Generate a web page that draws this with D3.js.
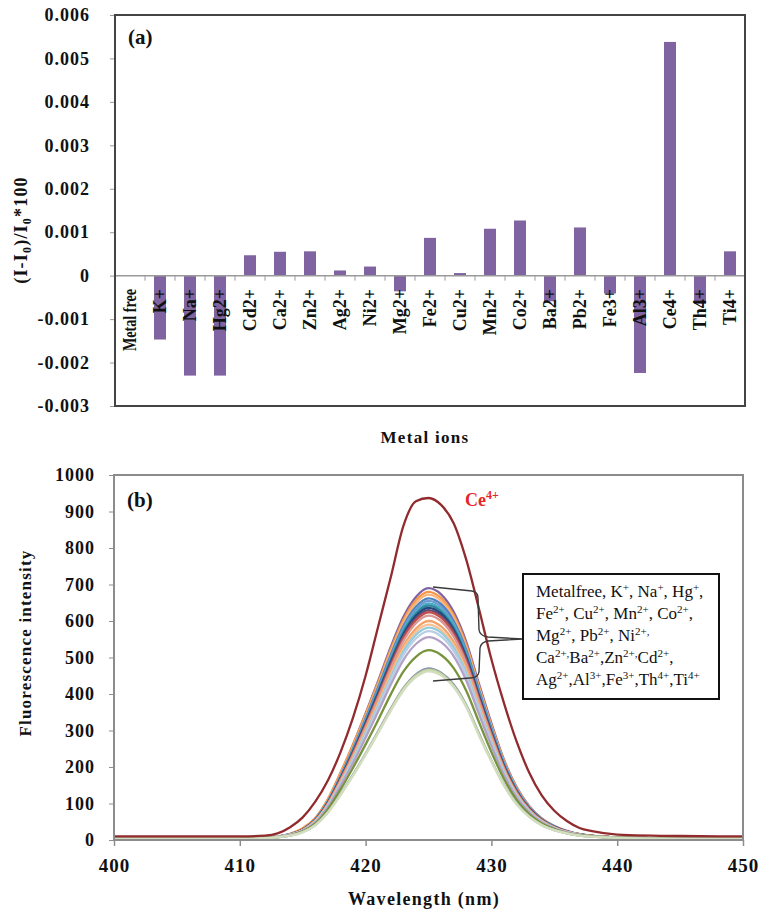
<!DOCTYPE html>
<html>
<head>
<meta charset="utf-8">
<script src="https://cdn.jsdelivr.net/npm/d3@7"></script>
<style>
  html, body { margin: 0; padding: 0; background: #fff; }
  svg { display: block; }
  text { font-family: "Liberation Serif", "Times New Roman", serif; }
</style>
</head>
<body>
<svg id="fig" width="761" height="914"></svg>
<script>
// ---------- Panel (a): relative intensity change for each metal ion ----------
const ions = ["Metal free", "K+", "Na+", "Hg2+", "Cd2+", "Ca2+", "Zn2+", "Ag2+", "Ni2+", "Mg2+",
  "Fe2+", "Cu2+", "Mn2+", "Co2+", "Ba2+", "Pb2+", "Fe3+", "Al3+", "Ce4+", "Th4+", "Ti4+"];
const relChange = [0, -0.00147, -0.0023, -0.0023, 0.00047, 0.00055, 0.00056, 0.00012, 0.00021, -0.00036,
  0.00087, 0.00006, 0.00108, 0.00127, -0.00059, 0.00111, -0.00041, -0.00224, 0.00538, -0.00065, 0.00056];
const relTicks = [-0.003, -0.002, -0.001, 0, 0.001, 0.002, 0.003, 0.004, 0.005, 0.006];

// ---------- Panel (b): emission spectra ----------
const wavelengths = [400, 405, 410, 412, 413, 414, 415, 416, 417, 418, 419, 420, 421, 422, 423, 424, 425,
  426, 427, 428, 429, 430, 431, 432, 433, 434, 435, 436, 437, 438, 440, 445, 450];
const ceSpectrum = [10, 10, 10, 12, 18, 35, 62, 105, 163, 240, 335, 450, 585, 720, 860, 928, 937,
  918, 868, 768, 635, 495, 375, 270, 185, 122, 80, 52, 33, 24, 15, 11, 10];
// one spectrum per ion of the legend group
const ionSpectra = [
  [4, 4, 4, 6, 9, 16, 30, 59, 110, 182, 261, 347, 436, 529, 611, 666, 690, 673, 625, 543, 429, 320, 220, 145, 93, 59, 38, 25, 16, 12, 7, 4, 4],
  [4, 4, 4, 6, 9, 17, 32, 60, 112, 184, 262, 345, 432, 522, 603, 657, 680, 663, 616, 535, 423, 315, 217, 143, 92, 58, 38, 24, 16, 11, 7, 4, 4],
  [4, 4, 4, 6, 9, 16, 29, 57, 108, 178, 255, 338, 425, 515, 595, 649, 672, 655, 609, 528, 418, 311, 214, 141, 91, 57, 37, 24, 16, 11, 7, 4, 4],
  [4, 4, 4, 6, 9, 16, 29, 57, 106, 175, 251, 333, 419, 507, 586, 639, 662, 646, 600, 521, 412, 307, 211, 139, 90, 57, 37, 24, 16, 11, 7, 4, 4],
  [4, 4, 4, 6, 9, 16, 29, 56, 105, 173, 248, 330, 414, 502, 580, 632, 655, 639, 593, 515, 408, 303, 209, 137, 89, 56, 37, 24, 16, 11, 7, 4, 4],
  [4, 4, 4, 6, 9, 16, 28, 56, 104, 171, 246, 326, 410, 497, 574, 625, 648, 632, 587, 510, 403, 300, 207, 136, 88, 56, 36, 23, 16, 11, 7, 4, 4],
  [4, 4, 4, 6, 9, 15, 28, 55, 103, 170, 243, 323, 406, 492, 569, 620, 642, 626, 581, 505, 400, 297, 205, 135, 87, 55, 36, 23, 15, 11, 7, 4, 4],
  [4, 4, 4, 6, 9, 15, 28, 55, 102, 168, 241, 320, 402, 487, 563, 614, 636, 620, 576, 500, 396, 295, 203, 134, 86, 55, 36, 23, 15, 11, 7, 4, 4],
  [4, 4, 4, 6, 9, 15, 28, 54, 101, 167, 239, 317, 398, 483, 558, 608, 630, 614, 571, 495, 392, 292, 201, 132, 85, 54, 35, 23, 15, 11, 7, 4, 4],
  [4, 4, 4, 6, 9, 15, 28, 54, 100, 165, 237, 314, 395, 478, 553, 602, 624, 609, 565, 491, 388, 289, 199, 131, 85, 54, 35, 23, 15, 11, 7, 4, 4],
  [4, 4, 4, 6, 9, 15, 27, 53, 99, 163, 233, 310, 389, 471, 545, 594, 615, 600, 557, 484, 383, 285, 196, 129, 83, 53, 35, 22, 15, 11, 7, 4, 4],
  [4, 4, 4, 6, 9, 15, 27, 52, 96, 159, 228, 302, 379, 460, 531, 579, 600, 585, 543, 472, 374, 278, 192, 126, 81, 52, 34, 22, 15, 11, 7, 4, 4],
  [4, 4, 4, 6, 9, 15, 26, 51, 95, 156, 224, 297, 373, 452, 523, 570, 590, 575, 534, 464, 367, 274, 189, 124, 80, 51, 33, 22, 15, 10, 7, 4, 4],
  [4, 4, 4, 6, 9, 14, 26, 50, 94, 154, 221, 293, 368, 446, 516, 562, 582, 568, 527, 458, 362, 270, 186, 122, 79, 50, 33, 21, 14, 10, 7, 4, 4],
  [4, 4, 4, 6, 9, 14, 26, 49, 92, 152, 217, 288, 362, 439, 507, 552, 572, 558, 518, 450, 356, 265, 183, 120, 78, 49, 32, 21, 14, 10, 7, 4, 4],
  [4, 4, 4, 6, 8, 14, 25, 48, 90, 148, 211, 280, 352, 426, 493, 537, 556, 542, 504, 437, 346, 258, 178, 117, 76, 48, 32, 21, 14, 10, 7, 4, 4],
  [4, 4, 4, 6, 8, 13, 24, 45, 84, 138, 198, 262, 329, 399, 461, 502, 520, 507, 471, 409, 324, 241, 167, 110, 71, 45, 30, 19, 13, 10, 7, 4, 4],
  [3, 3, 3, 5, 8, 12, 22, 41, 76, 125, 179, 237, 298, 360, 416, 454, 470, 458, 426, 370, 293, 218, 151, 100, 65, 41, 27, 18, 12, 9, 6, 3, 3],
  [3, 3, 3, 5, 8, 12, 22, 41, 76, 124, 177, 235, 295, 357, 413, 450, 466, 455, 422, 367, 290, 217, 150, 99, 64, 41, 27, 18, 12, 9, 6, 3, 3],
  [3, 3, 3, 5, 8, 12, 21, 41, 75, 123, 176, 233, 293, 354, 409, 446, 462, 451, 419, 364, 287, 215, 149, 98, 64, 41, 27, 18, 12, 9, 6, 3, 3]
];
const spectraColors = ["#8064A2", "#F79646", "#FAB57A", "#4F81BD", "#6C9BD2", "#4BACC6", "#31859C",
  "#1F497D", "#604A7B", "#C0504D", "#D99694", "#F3A36A", "#FAC090", "#93CDDD", "#B9CDE5", "#B3A2C7",
  "#77933C", "#8C96AC", "#C3D69B", "#D3DEC0"];
const ceColor = "#922B2E";
const wlTicks = [400, 410, 420, 430, 440, 450];
const intensityTicks = [0, 100, 200, 300, 400, 500, 600, 700, 800, 900, 1000];

// legend text: [text, isSuperscript]
const legendLines = [
  [["Metalfree, K", 0], ["+", 1], [", Na", 0], ["+", 1], [", Hg", 0], ["+", 1], [",", 0]],
  [["Fe", 0], ["2+", 1], [", Cu", 0], ["2+", 1], [", Mn", 0], ["2+", 1], [", Co", 0], ["2+", 1], [",", 0]],
  [["Mg", 0], ["2+", 1], [", Pb", 0], ["2+", 1], [", Ni", 0], ["2+,", 1]],
  [["Ca", 0], ["2+,", 1], ["Ba", 0], ["2+", 1], [",Zn", 0], ["2+,", 1], ["Cd", 0], ["2+", 1], [",", 0]],
  [["Ag", 0], ["2+", 1], [",Al", 0], ["3+", 1], [",Fe", 0], ["3+", 1], [",Th", 0], ["4+", 1], [",Ti", 0], ["4+", 1]]
];

// append runs of normal / raised / lowered text, tracking the baseline offset
function appendRuns(textSel, runs, size, smallSize, shift) {
  let offset = 0;
  runs.forEach(([s, flag]) => {
    const target = flag ? shift : 0;
    textSel.append("tspan")
      .attr("font-size", flag ? smallSize : size)
      .attr("dy", target - offset)
      .text(s);
    offset = target;
  });
}

const svg = d3.select("#fig");

// ================= Panel (a) =================
const A = { left: 115, right: 745, top: 15, bottom: 406 };
const xA = d3.scaleBand().domain(ions).range([A.left, A.right]).paddingInner(0.6).paddingOuter(0.3);
const yA = d3.scaleLinear().domain([-0.003, 0.006]).range([A.bottom, A.top]);
const fmtA = d => d === 0 ? "0" : d3.format(".3f")(d).replace("\u2212", "-");

const gA = svg.append("g");

// left axis with ticks and labels
const axA = gA.append("g").attr("transform", `translate(${A.left},0)`)
  .call(d3.axisLeft(yA).tickValues(relTicks).tickSize(5).tickPadding(20).tickFormat(fmtA));
axA.select(".domain").remove();
axA.selectAll(".tick line").attr("stroke", "#9a9a9a");
axA.selectAll(".tick text").attr("font-size", 18).attr("font-weight", "bold")
  .attr("letter-spacing", 1).attr("fill", "#111")
  .style("font-family", '"Liberation Serif", serif');

// bars
gA.append("g").selectAll("rect").data(ions).join("rect")
  .attr("x", d => xA(d))
  .attr("width", xA.bandwidth())
  .attr("y", (d, i) => Math.min(yA(relChange[i]), yA(0)))
  .attr("height", (d, i) => Math.abs(yA(relChange[i]) - yA(0)))
  .attr("fill", "#8064A2");

// zero line with category separators
const axX = gA.append("g").attr("transform", `translate(0,${yA(0)})`);
axX.append("line").attr("x1", A.left).attr("x2", A.right).attr("stroke", "#9a9a9a").attr("stroke-width", 1.5);
const stepA = xA.step();
axX.selectAll("line.sep").data(d3.range(1, ions.length)).join("line").attr("class", "sep")
  .attr("x1", i => A.left + i * stepA).attr("x2", i => A.left + i * stepA)
  .attr("y1", 0).attr("y2", 5).attr("stroke", "#9a9a9a");

// rotated category labels
gA.append("g").selectAll("text").data(ions).join("text")
  .attr("transform", d => `translate(${xA(d) + xA.bandwidth() / 2 + 6},289) rotate(-90)`)
  .attr("text-anchor", "end")
  .attr("font-size", 18).attr("font-weight", "bold").attr("fill", "#111")
  .attr("textLength", d => d === "Metal free" ? 62 : null)
  .attr("lengthAdjust", "spacingAndGlyphs")
  .text(d => d);

// frame
gA.append("rect").attr("x", A.left).attr("y", A.top)
  .attr("width", A.right - A.left).attr("height", A.bottom - A.top)
  .attr("fill", "none").attr("stroke", "#444").attr("stroke-width", 2);

gA.append("text").attr("x", 128).attr("y", 44).attr("font-size", 21).attr("font-weight", "bold")
  .attr("fill", "#111").text("(a)");

// y title with subscripts
const yTitleA = gA.append("text").attr("transform", "translate(27,230) rotate(-90)")
  .attr("text-anchor", "middle").attr("font-size", 18).attr("font-weight", "bold")
  .attr("letter-spacing", 1.2).attr("fill", "#111");
appendRuns(yTitleA, [["(I-I", 0], ["0", 1], [")/I", 0], ["0", 1], ["*100", 0]], 18, 12, 4);

gA.append("text").attr("x", 425).attr("y", 443).attr("text-anchor", "middle")
  .attr("font-size", 17).attr("font-weight", "bold").attr("letter-spacing", 1.3)
  .attr("fill", "#111").text("Metal ions");

// ================= Panel (b) =================
const B = { left: 114, right: 743, top: 475, bottom: 840 };
const xB = d3.scaleLinear().domain([400, 450]).range([B.left, B.right]);
const yB = d3.scaleLinear().domain([0, 1000]).range([B.bottom, B.top]);
const gB = svg.append("g");

const axBx = gB.append("g").attr("transform", `translate(0,${B.bottom})`)
  .call(d3.axisBottom(xB).tickValues(wlTicks).tickSize(6).tickPadding(13).tickFormat(d3.format("d")));
axBx.select(".domain").remove();
axBx.selectAll(".tick line").attr("stroke", "#8c8c8c").attr("stroke-width", 1.5);
axBx.selectAll(".tick text").attr("font-size", 19).attr("font-weight", "bold")
  .attr("letter-spacing", 1).attr("fill", "#111")
  .style("font-family", '"Liberation Serif", serif');

const axBy = gB.append("g").attr("transform", `translate(${B.left},0)`)
  .call(d3.axisLeft(yB).tickValues(intensityTicks).tickSize(5).tickPadding(14).tickFormat(d3.format("d")));
axBy.select(".domain").remove();
axBy.selectAll(".tick line").attr("stroke", "#8c8c8c");
axBy.selectAll(".tick text").attr("font-size", 18).attr("font-weight", "bold")
  .attr("letter-spacing", 1).attr("fill", "#111")
  .style("font-family", '"Liberation Serif", serif');

const line = d3.line()
  .x((d, i) => xB(wavelengths[i]))
  .y(d => yB(d))
  .curve(d3.curveMonotoneX);

gB.append("g").selectAll("path").data(ionSpectra).join("path")
  .attr("d", line)
  .attr("fill", "none")
  .attr("stroke", (d, i) => spectraColors[i])
  .attr("stroke-width", 2.3)
  .attr("stroke-linejoin", "round");

gB.append("path").datum(ceSpectrum).attr("d", line)
  .attr("fill", "none").attr("stroke", ceColor).attr("stroke-width", 2.3);

// frame
gB.append("rect").attr("x", B.left).attr("y", B.top)
  .attr("width", B.right - B.left).attr("height", B.bottom - B.top)
  .attr("fill", "none").attr("stroke", "#8c8c8c").attr("stroke-width", 2);

gB.append("text").attr("x", 127).attr("y", 507).attr("font-size", 21).attr("font-weight", "bold")
  .attr("fill", "#111").text("(b)");

// Ce4+ annotation
const ceLabel = gB.append("text").attr("x", 465).attr("y", 506).attr("font-size", 18)
  .attr("font-weight", "bold").attr("fill", "#E8262A");
appendRuns(ceLabel, [["Ce", 0], ["4+", 1]], 18, 12, -7);

// brace joining the grouped spectra to the legend box
gB.append("path")
  .attr("d", "M433,587 L472,591 Q478,592 478,598 L479,630 Q480,636 488,637 L523,639 " +
             "L488,641 Q481,642 480,648 L479,672 Q478,678 470,678 L433,681")
  .attr("fill", "none").attr("stroke", "#3a3a3a").attr("stroke-width", 1.4);

// legend box
gB.append("rect").attr("x", 523).attr("y", 574).attr("width", 196).attr("height", 125)
  .attr("fill", "#fff").attr("stroke", "#111").attr("stroke-width", 2);

legendLines.forEach((parts, li) => {
  const t = gB.append("text").attr("x", 536).attr("y", 597 + li * 22)
    .attr("font-size", 17).attr("fill", "#111");
  appendRuns(t, parts, 17, 11, -6);
});

// axis titles
gB.append("text").attr("transform", "translate(31,643) rotate(-90)")
  .attr("text-anchor", "middle").attr("font-size", 17).attr("font-weight", "bold")
  .attr("letter-spacing", 1.2).attr("fill", "#111").text("Fluorescence intensity");

gB.append("text").attr("x", 424).attr("y", 905).attr("text-anchor", "middle")
  .attr("font-size", 18).attr("font-weight", "bold").attr("letter-spacing", 1.3)
  .attr("fill", "#111").text("Wavelength (nm)");
</script>
</body>
</html>
